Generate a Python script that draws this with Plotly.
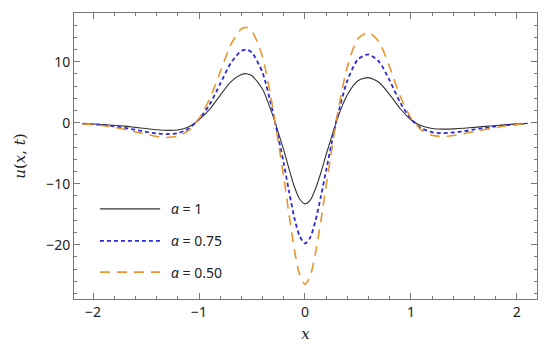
import plotly.graph_objects as go

x_vals = [-2.1, -2.0, -1.9, -1.8, -1.7, -1.6, -1.5, -1.4, -1.3, -1.2, -1.1, -1.0,
          -0.9, -0.8, -0.7, -0.6, -0.55, -0.5, -0.4, -0.3, -0.25, -0.2, -0.15, -0.1, -0.05, 0.0,
          0.05, 0.1, 0.15, 0.2, 0.25, 0.3, 0.4, 0.5, 0.6, 0.7, 0.8, 0.9, 1.0, 1.1, 1.2, 1.3,
          1.4, 1.5, 1.6, 1.7, 1.8, 1.9, 2.0, 2.1]

u_alpha_1 = [-0.15, -0.2, -0.3, -0.4, -0.55, -0.75, -0.95, -1.15, -1.25, -1.2, -0.7, 0.5,
             2.2, 4.5, 6.7, 7.9, 8.05, 7.7, 5.5, 1.0, -1.7, -4.5, -7.6, -10.5, -12.5, -13.3,
             -12.7, -10.8, -8.2, -5.2, -2.4, 0.4, 4.6, 6.9, 7.4, 6.6, 4.6, 2.3, 0.5, -0.5, -0.95, -1.05,
             -1.0, -0.9, -0.75, -0.6, -0.45, -0.3, -0.2, -0.1]

u_alpha_075 = [-0.15, -0.25, -0.4, -0.6, -0.85, -1.15, -1.5, -1.75, -1.85, -1.7, -1.0, 0.6,
               3.0, 6.4, 9.8, 11.8, 12.0, 11.5, 8.2, 1.5, -2.5, -6.7, -11.3, -15.6, -18.6, -19.8,
               -18.8, -16.0, -12.1, -7.8, -3.5, 0.6, 6.9, 10.4, 11.2, 10.0, 6.9, 3.3, 0.6, -0.9, -1.55, -1.7,
               -1.6, -1.4, -1.1, -0.85, -0.6, -0.4, -0.25, -0.15]

u_alpha_050 = [-0.2, -0.3, -0.5, -0.75, -1.1, -1.5, -1.9, -2.25, -2.4, -2.2, -1.3, 0.7,
               3.9, 8.3, 12.8, 15.4, 15.6, 15.0, 10.8, 2.0, -3.4, -8.9, -15.1, -20.8, -24.9, -26.5,
               -25.1, -21.3, -16.1, -10.3, -4.7, 0.8, 9.2, 13.8, 14.8, 13.2, 9.1, 4.3, 0.8, -1.2, -2.05, -2.25,
               -2.1, -1.8, -1.45, -1.1, -0.8, -0.5, -0.3, -0.15]

series_labels = ["α = 1", "α = 0.75", "α = 0.50"]
x_tick_vals = [-2, -1, 0, 1, 2]
y_tick_vals = [-20, -10, 0, 10]

colors = ["#333333", "#2a2ad8", "#e8962e"]
dashes = ["solid", "4px,3px", "10px,7px"]
widths = [1.1, 1.8, 1.6]

fig = go.Figure()
for ys, c, d, w, name in zip([u_alpha_1, u_alpha_075, u_alpha_050], colors, dashes, widths, series_labels):
    fig.add_trace(go.Scatter(x=x_vals, y=ys, mode="lines", name=name,
                             line=dict(color=c, dash=d, width=w, shape="spline", smoothing=0.7),
                             showlegend=False))

# manual legend (long line samples)
leg_y = [0.315, 0.203, 0.094]
for i in range(3):
    fig.add_shape(type="line", xref="paper", yref="paper", x0=0.056, x1=0.186,
                  y0=leg_y[i], y1=leg_y[i],
                  line=dict(color=colors[i], dash=dashes[i], width=widths[i]))
    fig.add_annotation(xref="paper", yref="paper", x=0.205, y=leg_y[i],
                       text="<i>α</i> = " + series_labels[i].split("= ")[1],
                       showarrow=False, xanchor="left", yanchor="middle",
                       font=dict(family="Noto Sans", size=14, color="#222"))

axis_common = dict(showline=True, linecolor="#777", linewidth=1, mirror="ticks",
                   ticks="inside", ticklen=6, tickcolor="#777", showgrid=False,
                   zeroline=False, automargin=False,
                   tickfont=dict(family="Noto Sans", size=14, color="#222"))

fig.update_xaxes(range=[-2.18, 2.19], tickvals=x_tick_vals,
                 minor=dict(ticks="inside", dtick=0.2, tick0=0, ticklen=3, tickcolor="#777"),
                 title=dict(text="<i>x</i>", font=dict(family="DejaVu Serif", size=15, color="#222"), standoff=8),
                 **axis_common)
fig.update_yaxes(range=[-28.9, 18.0], tickvals=y_tick_vals,
                 minor=dict(ticks="inside", dtick=2, tick0=0, ticklen=3, tickcolor="#777"),
                 title=dict(text="<i>u</i>(<i>x</i>, <i>t</i>)", font=dict(family="DejaVu Serif", size=15, color="#222"), standoff=16),
                 **axis_common)

fig.update_layout(width=542, height=352, margin=dict(l=66, r=13, t=5, b=61),
                  plot_bgcolor="white", paper_bgcolor="white")

fig.write_html("out.html")
